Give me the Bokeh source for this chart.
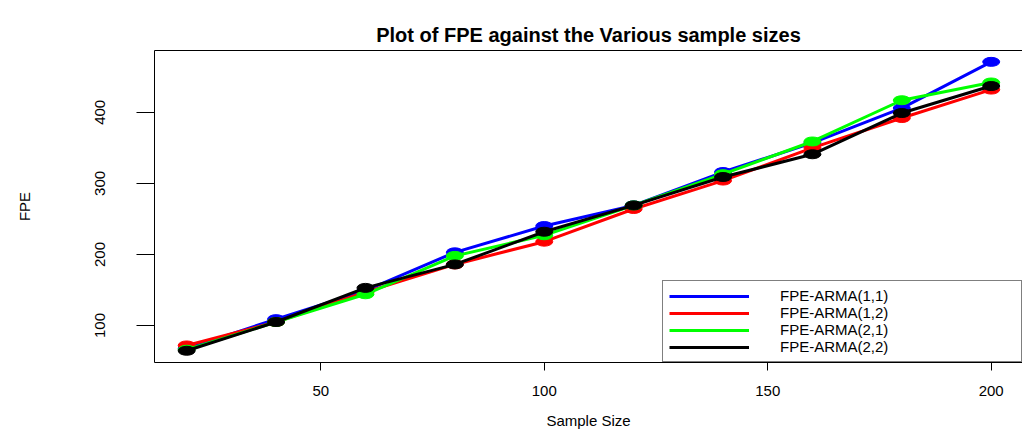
from bokeh.plotting import figure
from bokeh.models import Range1d, FixedTicker, Legend, LegendItem, LinearAxis
from bokeh.embed import file_html
from bokeh.resources import INLINE

# ---- data ----
sample_size = [20, 40, 60, 80, 100, 120, 140, 160, 180, 200]
fpe_arma11 = [67.5, 109, 149, 203, 240, 269, 316, 357, 406, 471]
fpe_arma12 = [72, 105, 147, 186, 218, 264, 304, 350, 392, 432]
fpe_arma21 = [66, 105, 144, 198, 227, 269, 313, 359, 417, 442]
fpe_arma22 = [64.5, 105, 153, 186, 232, 269, 309, 341, 399, 437]
series_names = ["FPE-ARMA(1,1)", "FPE-ARMA(1,2)", "FPE-ARMA(2,1)", "FPE-ARMA(2,2)"]
series_values = [fpe_arma11, fpe_arma12, fpe_arma21, fpe_arma22]
series_colors = ["#0000FF", "#FF0000", "#00FF00", "#000000"]
x_tick_values = [50, 100, 150, 200]
y_tick_values = [100, 200, 300, 400]
title_text = "Plot of FPE against the Various sample sizes"

FONT = "Liberation Sans"

p = figure(
    width=1022, height=431,
    x_range=Range1d(12.8, 207.0), y_range=Range1d(48, 487),
    output_backend="svg", toolbar_location=None,
    min_border_left=154, min_border_right=0, min_border_top=50, min_border_bottom=67,
    background_fill_color="white", border_fill_color="white",
)
p.outline_line_color = None
p.grid.visible = False

xa = p.below[0]
ya = p.left[0]

p.title.text = title_text
p.title.align = "center"
p.title.text_font = FONT
p.title.text_font_style = "bold"
p.title.text_font_size = "20px"
p.title.text_color = "black"

# top side of the box (an axis with no ticks), also spacing the title away
top_axis = LinearAxis(
    ticker=FixedTicker(ticks=[]), axis_line_color="black",
    major_tick_line_color=None, minor_tick_line_color=None,
    major_tick_out=9, major_tick_in=0, minor_tick_out=0, minor_tick_in=0,
    major_label_standoff=0, major_label_text_font_size="0px",
)
p.add_layout(top_axis, "above")

# x axis
xa.ticker = FixedTicker(ticks=x_tick_values)
xa.minor_tick_line_color = None
xa.major_tick_out = 8
xa.major_tick_in = 0
xa.major_tick_line_color = "black"
xa.major_label_standoff = 15
xa.major_label_text_font = FONT
xa.major_label_text_font_size = "15px"
xa.major_label_text_color = "black"
xa.axis_label = "Sample Size"
xa.axis_label_text_font = FONT
xa.axis_label_text_font_style = "normal"
xa.axis_label_text_font_size = "15px"
xa.axis_label_text_color = "black"
xa.axis_label_standoff = 13
xa.axis_line_color = "black"

# y axis
ya.ticker = FixedTicker(ticks=y_tick_values)
ya.minor_tick_line_color = None
ya.major_tick_out = 18
ya.major_tick_in = 0
ya.major_tick_line_color = "black"
ya.major_label_orientation = "vertical"
ya.major_label_standoff = 31
ya.major_label_text_font = FONT
ya.major_label_text_font_size = "15px"
ya.major_label_text_color = "black"
ya.axis_label = "FPE"
ya.axis_label_text_font = FONT
ya.axis_label_text_font_style = "normal"
ya.axis_label_text_font_size = "15px"
ya.axis_label_text_color = "black"
ya.axis_label_standoff = 60
ya.axis_line_color = "black"

items = []
for name, vals, col in zip(series_names, series_values, series_colors):
    r = p.line(sample_size, vals, line_color=col, line_width=3)
    p.ellipse(sample_size, vals, width=17, height=9, width_units="screen", height_units="screen",
              fill_color=col, line_color=col)
    items.append(LegendItem(label=name, renderers=[r]))

legend = Legend(
    items=items, location="bottom_right", margin=0, padding=6, spacing=0,
    glyph_height=16, label_height=16, glyph_width=80, label_standoff=31, label_width=235,
    border_line_color="black", border_line_width=1, background_fill_alpha=1.0,
    label_text_font=FONT, label_text_font_size="15px", label_text_color="black",
)
p.add_layout(legend)

open("out.html", "w").write(file_html(p, INLINE))
